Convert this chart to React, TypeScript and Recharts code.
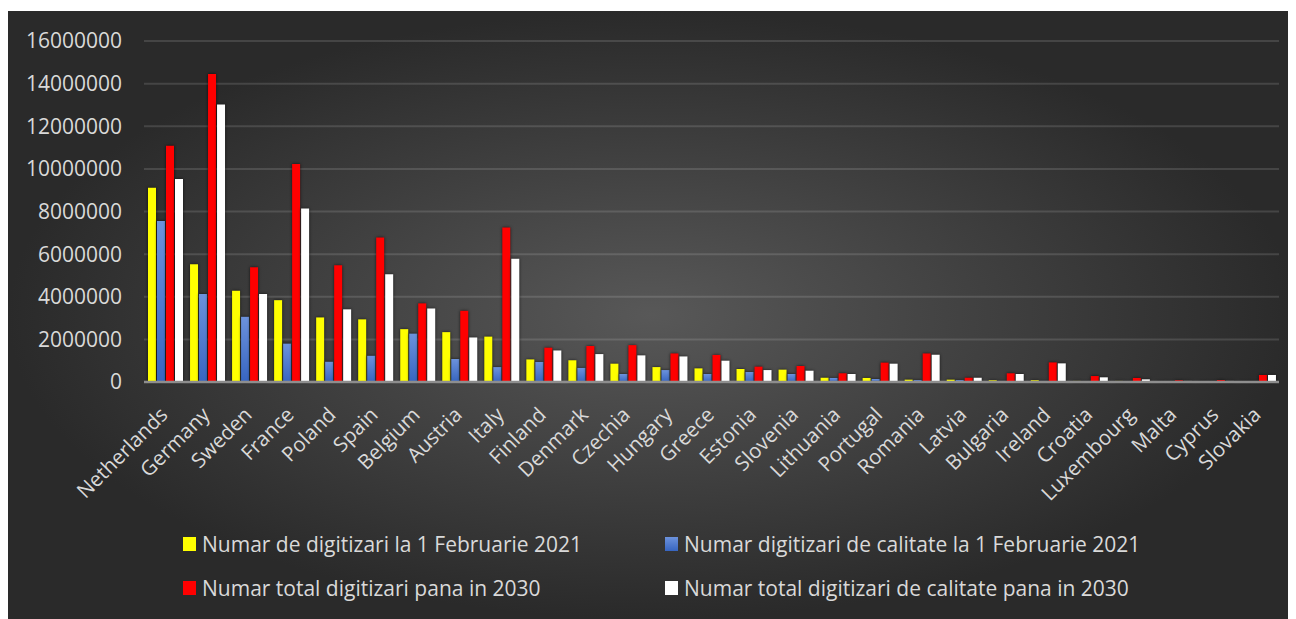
import React from 'react';
import { BarChart, Bar, XAxis, YAxis, CartesianGrid, Legend } from 'recharts';

const countries = [
  'Netherlands', 'Germany', 'Sweden', 'France', 'Poland', 'Spain', 'Belgium', 'Austria', 'Italy',
  'Finland', 'Denmark', 'Czechia', 'Hungary', 'Greece', 'Estonia', 'Slovenia', 'Lithuania', 'Portugal',
  'Romania', 'Latvia', 'Bulgaria', 'Ireland', 'Croatia', 'Luxembourg', 'Malta', 'Cyprus', 'Slovakia',
];

// Numar de digitizari la 1 Februarie 2021
const digitizari2021 = [
  9110000, 5520000, 4280000, 3840000, 3030000, 2940000, 2480000, 2340000, 2130000,
  1060000, 1020000, 860000, 700000, 640000, 610000, 580000, 200000, 190000,
  110000, 110000, 80000, 80000, 50000, 50000, 30000, 30000, 20000,
];

// Numar digitizari de calitate la 1 Februarie 2021
const calitate2021 = [
  7550000, 4130000, 3060000, 1800000, 950000, 1230000, 2270000, 1080000, 700000,
  940000, 660000, 375000, 560000, 375000, 470000, 375000, 190000, 140000,
  90000, 90000, 50000, 50000, 30000, 30000, 30000, 30000, 20000,
];

// Numar total digitizari pana in 2030
const total2030 = [
  11090000, 14450000, 5390000, 10230000, 5480000, 6780000, 3690000, 3340000, 7250000,
  1610000, 1690000, 1730000, 1340000, 1270000, 720000, 750000, 410000, 910000,
  1340000, 200000, 410000, 920000, 280000, 190000, 80000, 90000, 330000,
];

// Numar total digitizari de calitate pana in 2030
const calitate2030 = [
  9530000, 13020000, 4130000, 8140000, 3410000, 5060000, 3450000, 2090000, 5780000,
  1480000, 1310000, 1250000, 1200000, 1000000, 560000, 530000, 375000, 860000,
  1280000, 200000, 375000, 875000, 220000, 125000, 50000, 50000, 330000,
];

const yTicks = [0, 2000000, 4000000, 6000000, 8000000, 10000000, 12000000, 14000000, 16000000];

const data = countries.map((country, i) => ({
  country,
  d2021: digitizari2021[i],
  c2021: calitate2021[i],
  t2030: total2030[i],
  c2030: calitate2030[i],
}));

const FONT = '"Open Sans", sans-serif';
const TEXT = '#d9d9d9';

const CountryTick = ({ x, y, payload }: any) => (
  <text
    x={x + 4}
    y={y + 34}
    transform={`rotate(-45, ${x + 4}, ${y + 34})`}
    textAnchor="end"
    fill={TEXT}
    fontSize={20.5}
    fontFamily={FONT}
  >
    {payload.value}
  </text>
);

const legendSwatch: Record<string, string> = {
  d2021: '#ffff00',
  c2021: 'linear-gradient(#6c92dc, #3765c0)',
  t2030: '#ff0000',
  c2030: '#ffffff',
};
const legendOrder = ['d2021', 'c2021', 't2030', 'c2030'];

const renderLegend = ({ payload }: any) => {
  const items = legendOrder.map((k) => payload.find((p: any) => p.dataKey === k)).filter(Boolean);
  return (
    <div
      style={{
        display: 'grid',
        gridTemplateColumns: '482px 520px',
        rowGap: 22,
        fontFamily: FONT,
        fontSize: 21,
        color: TEXT,
      }}
    >
      {items.map((item: any) => (
        <div key={item.dataKey} style={{ display: 'flex', alignItems: 'center', height: 22 }}>
          <span
            style={{
              width: 13,
              height: 14,
              marginRight: 6,
              background: legendSwatch[item.dataKey],
              display: 'inline-block',
              flex: 'none',
            }}
          />
          <span style={{ whiteSpace: 'nowrap' }}>{item.value}</span>
        </div>
      ))}
    </div>
  );
};

export default function App() {
  return (
    <div
      style={{
        width: 1288,
        height: 608,
        marginTop: 3,
        background: 'radial-gradient(ellipse closest-side at 50% 50%, #585858 0%, #2a2a2a 100%)',
        position: 'relative',
      }}
    >
      <style>{`.recharts-bar-rectangle path { filter: drop-shadow(0px 0px 1.5px rgba(0,0,0,0.7)); }`}</style>
      <BarChart
        width={1288}
        height={608}
        data={data}
        margin={{ top: 30, right: 17, left: 0, bottom: 177 }}
        barCategoryGap={4}
        barGap={1}
      >
        <defs>
          <linearGradient id="blueFill" x1="0" y1="0" x2="0" y2="1">
            <stop offset="0%" stopColor="#6c92dc" />
            <stop offset="100%" stopColor="#3765c0" />
          </linearGradient>
        </defs>
        <CartesianGrid vertical={false} stroke="rgba(255,255,255,0.13)" strokeWidth={2} />
        <XAxis
          dataKey="country"
          interval={0}
          height={60}
          tickLine={false}
          tickSize={0}
          tickMargin={0}
          axisLine={{ stroke: '#8e8e8e', strokeWidth: 2.5 }}
          tick={<CountryTick />}
        />
        <YAxis
          width={136}
          domain={[0, 16000000]}
          ticks={yTicks}
          interval={0}
          axisLine={false}
          tickLine={false}
          tickSize={0}
          tickMargin={22}
          tick={{ fill: TEXT, fontSize: 21, fontFamily: FONT }}
        />
        <Legend
          layout="horizontal"
          verticalAlign="middle"
          align="center"
          wrapperStyle={{ left: 175, top: 522, width: 1040, height: 90 }}
          content={renderLegend}
        />
        <Bar dataKey="d2021" name="Numar de digitizari la 1 Februarie 2021" fill="#ffff00" isAnimationActive={false} />
        <Bar dataKey="c2021" name="Numar digitizari de calitate la 1 Februarie 2021" fill="url(#blueFill)" isAnimationActive={false} />
        <Bar dataKey="t2030" name="Numar total digitizari pana in 2030" fill="#ff0000" isAnimationActive={false} />
        <Bar dataKey="c2030" name="Numar total digitizari de calitate pana in 2030" fill="#ffffff" isAnimationActive={false} />
      </BarChart>
    </div>
  );
}
